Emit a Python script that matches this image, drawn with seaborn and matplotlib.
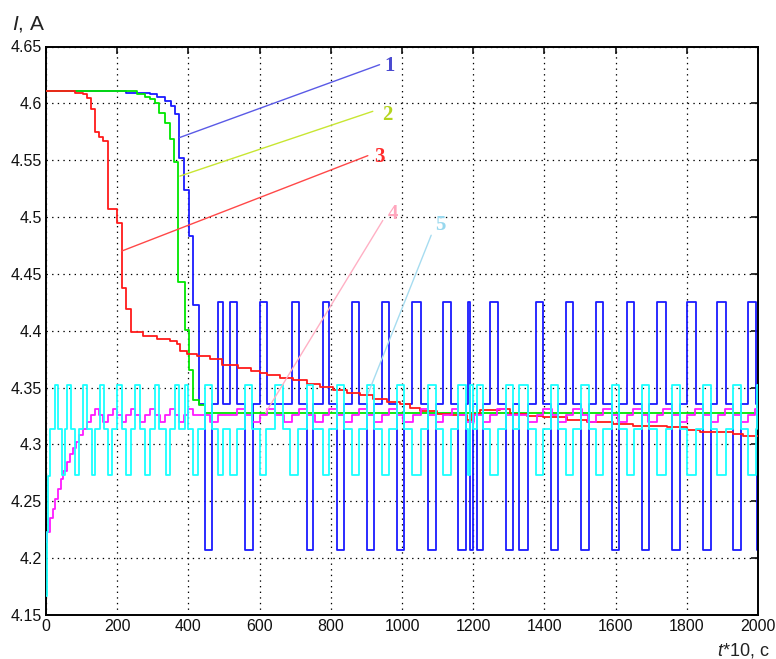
import matplotlib
matplotlib.use("Agg")
import matplotlib.pyplot as plt
import pandas as pd
import seaborn as sns

# ---------------- data ----------------
x_ticks = [0, 200, 400, 600, 800, 1000, 1200, 1400, 1600, 1800, 2000]
y_ticks = [4.15, 4.2, 4.25, 4.3, 4.35, 4.4, 4.45, 4.5, 4.55, 4.6, 4.65]
y_tick_labels = ["4.15", "4.2", "4.25", "4.3", "4.35", "4.4", "4.45", "4.5", "4.55", "4.6", "4.65"]

# curve 1 (blue)
blue_t = [0, 225, 292, 311, 334, 350, 362, 374, 389, 402, 413, 430,
          447, 466, 483, 497, 517, 537, 559, 581, 601, 621, 691, 711, 733, 750,
          778, 795, 817, 837, 860, 879, 902, 921, 944, 963, 986, 1006, 1028, 1053,
          1073, 1096, 1115, 1138, 1157, 1180, 1185, 1190, 1199, 1211, 1228, 1247,
          1270, 1292, 1312, 1329, 1354, 1376, 1396, 1419, 1438, 1461, 1480, 1503,
          1525, 1545, 1565, 1590, 1610, 1632, 1652, 1674, 1694, 1716, 1742, 1758,
          1781, 1801, 1826, 1846, 1868, 1885, 1910, 1930, 1952, 1972, 1994, 1998, 2000]
blue_i = [4.611, 4.6095, 4.608, 4.606, 4.602, 4.598, 4.591, 4.552, 4.524, 4.483, 4.423, 4.336,
          4.207, 4.336, 4.425, 4.336, 4.425, 4.336, 4.207, 4.336, 4.425, 4.336, 4.425, 4.336, 4.207, 4.336,
          4.425, 4.336, 4.207, 4.336, 4.425, 4.336, 4.207, 4.336, 4.425, 4.336, 4.207, 4.336, 4.425, 4.336,
          4.207, 4.336, 4.425, 4.336, 4.207, 4.336, 4.425, 4.207, 4.336, 4.207, 4.336, 4.425,
          4.336, 4.207, 4.336, 4.207, 4.336, 4.425, 4.336, 4.207, 4.336, 4.425, 4.336, 4.207,
          4.336, 4.425, 4.336, 4.207, 4.336, 4.425, 4.336, 4.207, 4.336, 4.425, 4.336, 4.207,
          4.336, 4.425, 4.336, 4.207, 4.336, 4.425, 4.336, 4.207, 4.336, 4.425, 4.336, 4.207, 4.207]

# curve 2 (green)
green_t = [0, 255, 278, 292, 306, 318, 334, 348, 360, 372, 390, 403, 414, 431, 447, 2000]
green_i = [4.611, 4.608, 4.6058, 4.6035, 4.600, 4.5912, 4.5824, 4.5683, 4.5486, 4.443,
           4.4004, 4.3652, 4.3388, 4.3344, 4.3278, 4.3278]

# curve 3 (red)
red_t = [0, 81, 105, 116, 126, 138, 150, 161, 175, 200, 213, 225, 239, 273, 311, 348, 367,
         376, 395, 423, 461, 494, 540, 575, 601, 620, 657, 694, 732, 770, 806, 845, 882,
         919, 957, 994, 1022, 1051, 1098, 1135, 1182, 1196, 1219, 1275, 1303, 1350, 1397,
         1463, 1519, 1594, 1649, 1744, 1800, 1837, 1930, 1958, 2000]
red_i = [4.611, 4.6093, 4.6082, 4.6044, 4.595, 4.575, 4.5706, 4.5671, 4.5067, 4.4949, 4.4377,
         4.4187, 4.399, 4.3958, 4.3931, 4.3908, 4.3887, 4.3822, 4.3799, 4.3778, 4.3755, 4.3696,
         4.3668, 4.3650, 4.3632, 4.3608, 4.3587, 4.3564, 4.3535, 4.3505, 4.3476, 4.3452, 4.3432,
         4.3403, 4.3373, 4.3353, 4.3324, 4.3294, 4.3271, 4.3256, 4.3218, 4.3271, 4.330, 4.3315,
         4.3271, 4.3247, 4.3241, 4.3212, 4.3197, 4.3183, 4.316, 4.3153, 4.3124, 4.3109, 4.3089,
         4.3074, 4.3074]

# curve 4 (magenta)
mag_t = [0, 2, 11, 19, 25, 35, 41, 49, 58, 67, 75, 84, 94, 103, 114, 126, 138,
         150, 161, 175, 187, 199, 213, 225, 238, 250, 264, 278, 292, 306, 320, 334, 348,
         362, 374, 387, 400, 413, 461, 483, 537, 559, 579, 601, 621, 643, 669, 691, 711,
         733, 756, 778, 795, 817, 837, 860, 879, 902, 921, 944, 963, 986, 1003, 1031, 1053,
         1073, 1096, 1115, 1140, 1157, 1180, 1202, 1228, 1247, 1267, 1292, 1354, 1379, 1396,
         1421, 1438, 1461, 1480, 1506, 1522, 1545, 1565, 1590, 1607, 1632, 1649, 1674, 1691,
         1716, 1733, 1759, 1781, 1801, 1823, 1846, 1868, 1888, 1907, 1930, 1952, 1972, 1992, 2000]
mag_i = [4.214, 4.223, 4.235, 4.2435, 4.252, 4.261, 4.270, 4.277, 4.2845, 4.292, 4.297, 4.302,
         4.308, 4.314, 4.320, 4.326, 4.331,
         4.326, 4.320, 4.326, 4.331, 4.326, 4.320, 4.326, 4.331, 4.326, 4.320, 4.326, 4.331,
         4.326, 4.320, 4.326, 4.331, 4.326, 4.320, 4.326, 4.331, 4.326, 4.320, 4.326, 4.331,
         4.326, 4.320, 4.326, 4.331, 4.326, 4.320, 4.326, 4.331, 4.326, 4.320, 4.326, 4.331,
         4.326, 4.320, 4.326, 4.331, 4.326, 4.320, 4.326, 4.331, 4.326, 4.320, 4.326, 4.331,
         4.326, 4.320, 4.326, 4.331, 4.326, 4.320, 4.326, 4.320, 4.326, 4.331, 4.326, 4.320,
         4.326, 4.331, 4.326, 4.320, 4.326, 4.331, 4.326, 4.320, 4.326, 4.331, 4.326, 4.320,
         4.326, 4.331, 4.326, 4.320, 4.326, 4.331, 4.326, 4.320, 4.326, 4.331, 4.326, 4.320,
         4.326, 4.331, 4.326, 4.320, 4.326, 4.331, 4.331]

# curve 5 (cyan)
cyan_t = [0, 2, 6, 12, 25, 35, 44, 53, 58, 69, 81, 94, 105, 114, 128, 138, 152, 163, 175, 185,
          200, 213, 225, 239, 250, 264, 278, 292, 306, 318, 336, 348, 362, 374, 390, 400,
          412, 428, 447, 466, 483, 497, 517, 537, 559, 578, 601, 618, 643, 666, 685, 709,
          733, 750, 778, 795, 817, 837, 860, 879, 902, 921, 944, 963, 986, 1006, 1028, 1053,
          1073, 1096, 1115, 1138, 1157, 1180, 1185, 1190, 1199, 1211, 1228, 1247, 1270, 1292,
          1312, 1329, 1354, 1376, 1396, 1419, 1438, 1461, 1480, 1503, 1525, 1545, 1565, 1590,
          1610, 1632, 1652, 1674, 1694, 1716, 1742, 1758, 1781, 1801, 1826, 1846, 1868, 1885,
          1910, 1930, 1952, 1972, 1994, 1998, 2000]
cyan_i = [4.167, 4.223, 4.272, 4.314, 4.352, 4.314, 4.273, 4.314, 4.352, 4.314, 4.273, 4.314,
          4.352, 4.314, 4.273, 4.314, 4.352, 4.314, 4.273, 4.314, 4.352, 4.314, 4.273, 4.314,
          4.352, 4.314, 4.273, 4.314, 4.352, 4.314, 4.273, 4.314, 4.352, 4.314, 4.352, 4.314,
          4.273, 4.314, 4.352, 4.314, 4.273, 4.314, 4.273, 4.314, 4.352, 4.314, 4.273, 4.314,
          4.352, 4.314, 4.273, 4.314,
          4.352, 4.314, 4.273, 4.314, 4.352, 4.314, 4.273, 4.314, 4.352, 4.314, 4.273, 4.314,
          4.352, 4.314, 4.273, 4.314, 4.352, 4.314, 4.273, 4.314, 4.352, 4.314, 4.273, 4.352,
          4.314, 4.352, 4.314, 4.273, 4.314, 4.352, 4.314, 4.352, 4.314, 4.273, 4.314, 4.352,
          4.314, 4.273, 4.314, 4.352, 4.314, 4.273, 4.314, 4.352, 4.314, 4.273, 4.314, 4.352,
          4.314, 4.273, 4.314, 4.352, 4.314, 4.273, 4.314, 4.352, 4.314, 4.273, 4.314, 4.352,
          4.314, 4.273, 4.314, 4.352, 4.352]

# leader lines: (start t, start I, end t, end I), label position and text
labels = ["1", "2", "3", "4", "5"]
leader_t0 = [376, 376, 212, 617, 905]
leader_i0 = [4.570, 4.536, 4.470, 4.328, 4.345]
leader_t1 = [937, 918, 904, 946, 1082]
leader_i1 = [4.634, 4.593, 4.554, 4.497, 4.484]
label_t = [966, 960, 936, 975, 1108]
label_i = [4.633, 4.590, 4.553, 4.503, 4.493]
leader_colors = ["#5a5ae6", "#c8e632", "#ff4848", "#ffb0c4", "#a6dcf0"]
label_colors = ["#4a4ad0", "#b4d41e", "#ff2a2a", "#ffa6bd", "#98d8ee"]

# ---------------- drawing ----------------
sns.set_style("white")
plt.rcParams["font.family"] = ["Liberation Sans Narrow", "Liberation Sans", "DejaVu Sans"]
plt.rcParams["mathtext.fontset"] = "custom"
plt.rcParams["mathtext.it"] = "Liberation Sans:italic"
plt.rcParams["mathtext.rm"] = "Liberation Sans"

fig = plt.figure(figsize=(7.76, 6.59), dpi=100)
ax = fig.add_axes([46 / 776, 44 / 659, 712 / 776, 568.5 / 659])

series = [
    (blue_t, blue_i, "#1a1aff", 2),
    (green_t, green_i, "#00e600", 3),
    (red_t, red_i, "#ff1a1a", 4),
    (mag_t, mag_i, "#ff1aff", 5),
    (cyan_t, cyan_i, "#1affff", 6),
]
for t, v, c, z in series:
    df = pd.DataFrame({"t": t, "I": v})
    sns.lineplot(data=df, x="t", y="I", ax=ax, color=c, lw=1.3,
                 drawstyle="steps-post", estimator=None, sort=False, zorder=z)

for k in range(len(labels)):
    df = pd.DataFrame({"t": [leader_t0[k], leader_t1[k]], "I": [leader_i0[k], leader_i1[k]]})
    sns.lineplot(data=df, x="t", y="I", ax=ax, color=leader_colors[k], lw=1.0,
                 estimator=None, sort=False, zorder=7)
    ax.text(label_t[k], label_i[k], labels[k], color=label_colors[k],
            family=["Liberation Serif", "DejaVu Serif"], fontweight="bold",
            fontsize=15, ha="center", va="center", zorder=8)

ax.set_xlim(0, 2000)
ax.set_ylim(4.15, 4.65)
ax.set_xticks(x_ticks)
ax.set_xticklabels([str(v) for v in x_ticks])
ax.set_yticks(y_ticks)
ax.set_yticklabels(y_tick_labels)
ax.set_xlabel("")
ax.set_ylabel("")
ax.grid(True, color="black", linestyle=(0, (1.1, 3.4)), linewidth=0.9)
ax.set_axisbelow(True)
ax.tick_params(direction="in", length=5, width=1.2, top=True, right=True,
               labelsize=11.5, colors="#111111", pad=3)
for s in ax.spines.values():
    s.set_linewidth(1.4)
    s.set_color("black")

fig.text(12 / 776, 1 - 29 / 659, r"$\mathit{I}$, A", fontsize=15, color="#222222",
         family=["Liberation Sans", "DejaVu Sans"], ha="left", va="baseline")
fig.text(770 / 776, 1 - 655 / 659, r"$\mathit{t}$*10, c", fontsize=13, color="#222222",
         family=["Liberation Sans", "DejaVu Sans"], ha="right", va="baseline")

fig.savefig("out.png", dpi=100)
